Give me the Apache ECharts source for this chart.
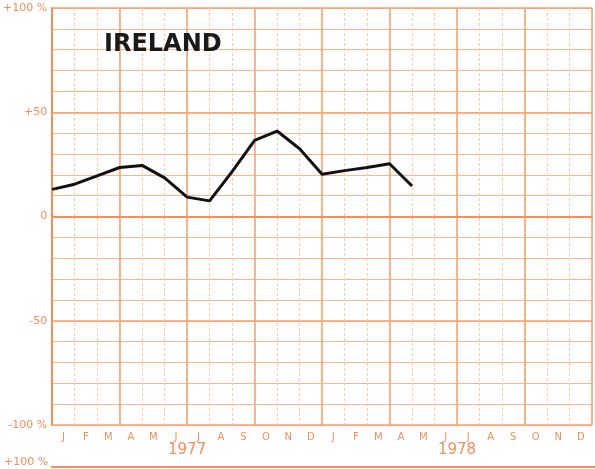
<!DOCTYPE html>
<html>
<head>
<meta charset="utf-8">
<script src="https://cdn.jsdelivr.net/npm/echarts@6/dist/echarts.min.js"></script>
<style>
html, body { margin: 0; padding: 0; background: #fff; }
#chart { width: 595px; height: 469px; }
</style>
</head>
<body>
<div id="chart"></div>
<script>
// months shown on the axis (two years)
var monthLabels = ['J', 'F', 'M', 'A', 'M', 'J', 'J', 'A', 'S', 'O', 'N', 'D',
	'J', 'F', 'M', 'A', 'M', 'J', 'J', 'A', 'S', 'O', 'N', 'D'];
var quarterNames = ['Q1', 'Q2', 'Q3', 'Q4', 'Q1', 'Q2', 'Q3', 'Q4'];
var yearLabels = ['1977', '1978'];
// month index from Jan 1977 (0) and % change
var monthIndex = [0, 1, 2, 3, 4, 5, 6, 7, 8, 9, 10, 11, 12, 13, 14, 15, 16];
var changeValues = [13, 15.5, 19.5, 23.5, 24.5, 18.5, 9.3, 7.5, 21.5, 36.5, 41, 32.5, 20.3, 22, 23.5, 25.3, 14.6];
var yTickLabels = { '100': '+100 %', '50': '+50', '0': '0', '-50': '-50', '-100': '-100 %' };

var orange = '#f0905a';
var lineData = monthIndex.map(function(m, i) { return [m, changeValues[i]]; });

var myChart = echarts.init(document.getElementById('chart'));
var option = {
	backgroundColor: '#fff',
	animation: false,
	title: {
		text: 'IRELAND',
		left: 99,
		top: 28,
		textStyle: { fontFamily: 'DejaVu Sans', fontWeight: 'bold', fontSize: 24, color: '#1a1a1a' }
	},
	grid: { left: 51, right: 3, top: 8, bottom: 44 },
	xAxis: [{
		// data axis, months counted from Jan 1977
		type: 'value', min: 0, max: 24, show: false,
		splitLine: { show: false }
	}, {
		// month labels + faint dotted month grid
		type: 'category', data: monthLabels, boundaryGap: true, position: 'bottom',
		axisLine: { show: true, lineStyle: { color: orange, width: 2 } },
		axisTick: { show: false },
		splitLine: { show: true, interval: 0, lineStyle: { color: '#fbcaa6', width: 1, type: [3, 2] } },
		axisLabel: { color: orange, fontSize: 10, margin: 7, fontFamily: 'DejaVu Sans' }
	}, {
		// quarter grid
		type: 'category', data: quarterNames, boundaryGap: true, position: 'bottom',
		axisLine: { show: false }, axisTick: { show: false }, axisLabel: { show: false },
		splitLine: { show: true, interval: 0, lineStyle: { color: '#f5a06c', width: 1.5 } }
	}, {
		type: 'category', data: yearLabels, boundaryGap: true, position: 'bottom',
		axisLine: { show: false }, axisTick: { show: false }, splitLine: { show: false },
		axisLabel: { color: orange, fontSize: 15, margin: 18, fontFamily: 'DejaVu Sans' }
	}],
	yAxis: [{
		type: 'value', min: -100, max: 100, interval: 10,
		axisLine: { show: true, lineStyle: { color: orange, width: 2 } },
		axisTick: { show: false },
		axisLabel: {
			color: orange, fontSize: 11, margin: 5, fontFamily: 'DejaVu Sans',
			formatter: function(v) { return yTickLabels[String(v)] || ''; }
		},
		splitLine: { show: true, lineStyle: { color: '#f7b68c', width: 1.2 } }
	}, {
		type: 'value', min: -100, max: 100, interval: 50, position: 'left',
		axisLine: { show: false }, axisTick: { show: false }, axisLabel: { show: false },
		splitLine: { show: true, lineStyle: { color: '#f5a272', width: 1.5 } }
	}],
	series: [{
		type: 'line',
		xAxisIndex: 0,
		yAxisIndex: 0,
		data: lineData,
		symbol: 'none',
		lineStyle: { color: '#111', width: 3 }
	}],
	graphic: [{
		type: 'line',
		shape: { x1: 51, y1: 467, x2: 595, y2: 467 },
		style: { stroke: orange, lineWidth: 2 }
	}, {
		type: 'text',
		left: 4, top: 457,
		style: { text: '+100 %', fill: orange, font: '11px DejaVu Sans' }
	}]
};
myChart.setOption(option);
</script>
</body>
</html>
